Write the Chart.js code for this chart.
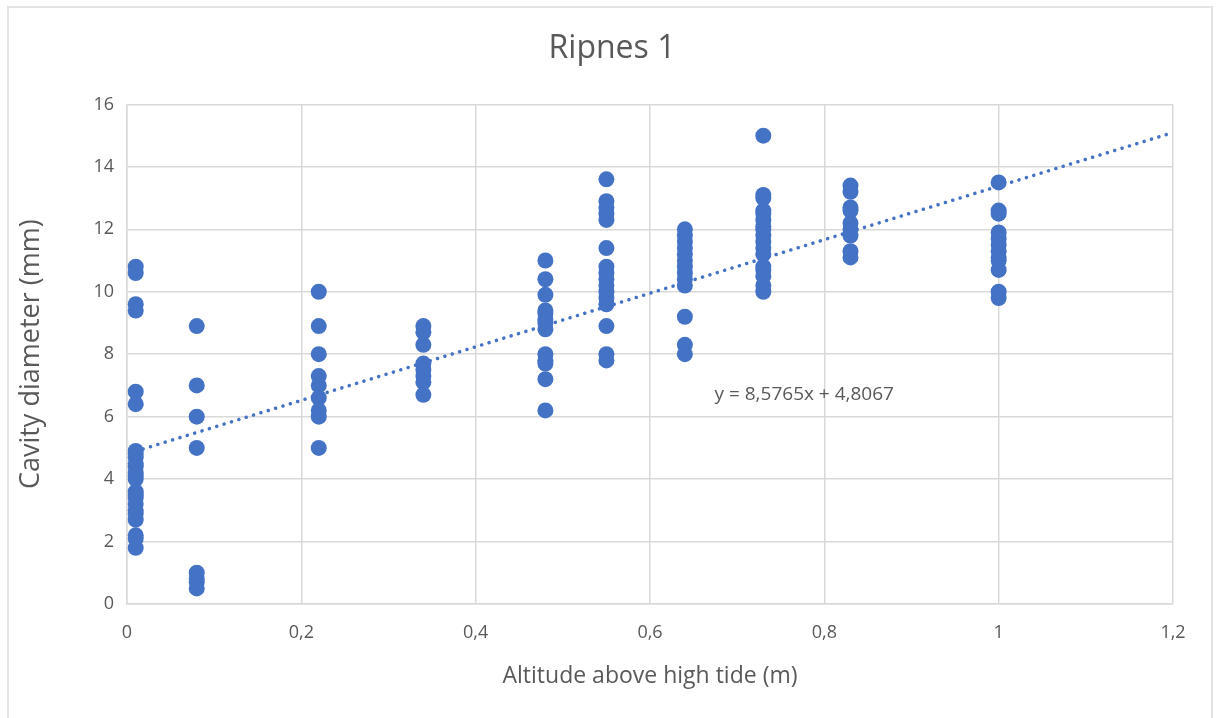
<!DOCTYPE html>
<html>
<head>
<meta charset="utf-8">
<script src="https://cdn.jsdelivr.net/npm/chart.js@4"></script>
<style>
  html, body { margin: 0; padding: 0; background: #fff; }
  #wrap { position: relative; width: 1216px; height: 718px; overflow: hidden; }
  #frame { position: absolute; left: 7px; top: 6px; right: 3px; bottom: -10px;
           border: 2px solid #e3e3e3; pointer-events: none; }
</style>
</head>
<body>
<div id="wrap">
  <canvas id="chart" width="1216" height="718"></canvas>
  <div id="frame"></div>
</div>
<script>
// altitude above high tide (m) for each sampling level
const altitudes = [0.01, 0.08, 0.22, 0.34, 0.48, 0.55, 0.64, 0.73, 0.83, 1.0];

// cavity diameters (mm) measured at each altitude
const diameters = [
  [10.8, 10.6, 9.6, 9.4, 6.8, 6.4, 4.9, 4.8, 4.7, 4.5, 4.4, 4.2, 4.1, 4.0, 3.6, 3.5, 3.4, 3.2, 3.0, 2.9, 2.7, 2.2, 2.1, 1.8],
  [8.9, 7.0, 6.0, 5.0, 1.0, 0.8, 0.7, 0.5],
  [10.0, 8.9, 8.0, 7.3, 7.0, 6.6, 6.2, 6.0, 5.0],
  [8.9, 8.7, 8.3, 7.7, 7.5, 7.3, 7.1, 6.7],
  [11.0, 10.4, 9.9, 9.4, 9.3, 9.1, 9.0, 8.8, 8.0, 7.8, 7.7, 7.2, 6.2],
  [13.6, 12.9, 12.7, 12.5, 12.3, 11.4, 10.8, 10.6, 10.4, 10.2, 10.0, 9.8, 9.6, 8.9, 8.0, 7.8],
  [12.0, 11.8, 11.6, 11.4, 11.2, 11.0, 10.8, 10.6, 10.4, 10.2, 9.2, 8.3, 8.0],
  [15.0, 13.1, 13.0, 12.6, 12.5, 12.3, 12.1, 12.0, 11.8, 11.6, 11.4, 11.2, 10.8, 10.7, 10.5, 10.2, 10.0],
  [13.4, 13.2, 12.7, 12.6, 12.2, 12.0, 11.8, 11.3, 11.1],
  [13.5, 12.6, 12.5, 11.9, 11.7, 11.5, 11.3, 11.1, 11.0, 10.7, 10.0, 9.8]
];

// linear trendline shown on the chart
const slope = 8.5765;
const intercept = 4.8067;
const trendFrom = 0.01;
const trendTo = 1.2;
const trendLabel = "y = 8,5765x + 4,8067";

const blue = "#4472C4";
const grey = "#595959";
const gridColor = "#d9d9d9";
const font = "'Open Sans', 'Noto Sans', sans-serif";

const points = [];
altitudes.forEach((a, i) => {
  diameters[i].forEach(d => points.push({ x: a, y: d }));
});

const trendPoints = [trendFrom, trendTo].map(x => ({ x: x, y: slope * x + intercept }));

const comma = v => String(Math.round(v * 10) / 10).replace(".", ",");

// equation text next to the trendline
const equationPlugin = {
  id: "equation",
  afterDatasetsDraw(chart) {
    const { ctx, scales } = chart;
    ctx.save();
    ctx.font = "19px " + font;
    ctx.fillStyle = grey;
    ctx.textAlign = "left";
    ctx.textBaseline = "middle";
    ctx.fillText(trendLabel, scales.x.getPixelForValue(0.674), scales.y.getPixelForValue(6.7));
    ctx.restore();
  }
};

new Chart(document.getElementById("chart"), {
  type: "scatter",
  data: {
    datasets: [
      {
        label: "Trend",
        type: "line",
        data: trendPoints,
        borderColor: blue,
        borderWidth: 3.5,
        borderDash: [0.1, 7.6],
        borderCapStyle: "round",
        pointRadius: 0,
        fill: false,
        order: 0
      },
      {
        label: "Cavity diameter",
        data: points,
        backgroundColor: blue,
        borderColor: blue,
        borderWidth: 0,
        pointRadius: 8,
        order: 1
      }
    ]
  },
  options: {
    responsive: false,
    animation: false,
    layout: { padding: { left: 8, right: 0, top: 0, bottom: 0 } },
    plugins: {
      legend: { display: false },
      tooltip: { enabled: false },
      title: {
        display: true,
        text: "Ripnes 1",
        color: grey,
        font: { family: font, size: 32, weight: "normal" },
        padding: { top: 30, bottom: 36 }
      }
    },
    scales: {
      x: {
        type: "linear",
        min: 0,
        max: 1.2,
        afterFit: s => { s.height = 114; },
        ticks: { stepSize: 0.2, color: grey, padding: 18, font: { family: font, size: 18 }, callback: comma, maxRotation: 0 },
        grid: { color: gridColor, lineWidth: 1.5, drawTicks: false },
        border: { color: gridColor, width: 1.5 },
        title: { display: true, text: "Altitude above high tide (m)", color: grey,
                 font: { family: font, size: 23 }, padding: { top: 0, bottom: 28 } }
      },
      y: {
        min: 0,
        max: 16,
        afterFit: s => { s.width = 119; },
        ticks: { stepSize: 2, color: grey, padding: 13, font: { family: font, size: 18 } },
        grid: { color: gridColor, lineWidth: 1.5, drawTicks: false },
        border: { color: gridColor, width: 1.5 },
        title: { display: true, text: "Cavity diameter (mm)", color: grey,
                 font: { family: font, size: 27 }, padding: { top: 7, bottom: 0 } }
      },
      // empty right-hand box that keeps the plot clear of the right edge
      spacer: {
        type: "linear",
        position: "right",
        display: true,
        afterFit: s => { s.width = 43; },
        ticks: { display: false },
        grid: { display: false },
        border: { display: false }
      }
    }
  },
  plugins: [equationPlugin]
});
</script>
</body>
</html>
